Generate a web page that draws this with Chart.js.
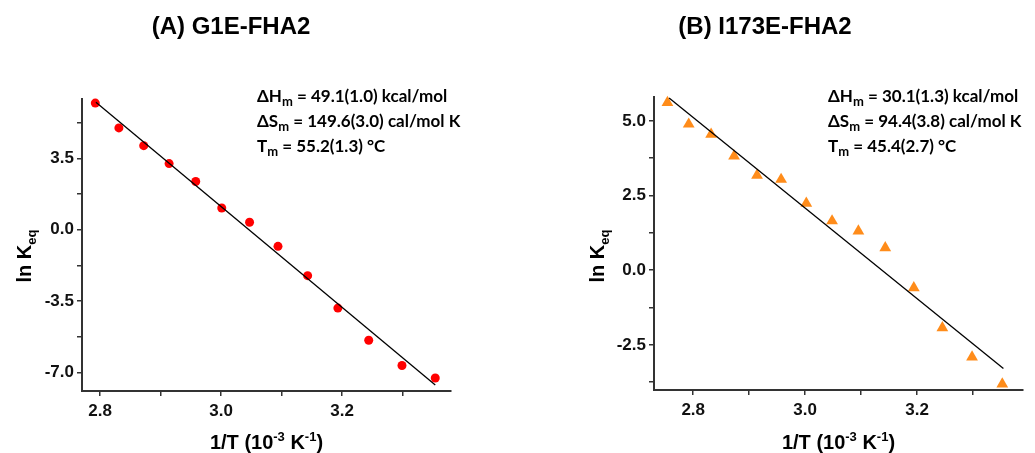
<!DOCTYPE html>
<html>
<head>
<meta charset="utf-8">
<script src="https://cdn.jsdelivr.net/npm/chart.js@4.4.1/dist/chart.umd.min.js"></script>
<style>
  html, body { margin: 0; padding: 0; background: #fff; }
  #wrap { position: relative; width: 1035px; height: 453px; }
  .panel { position: absolute; top: 0; height: 453px; }
  #panel-a { left: 0; width: 517px; }
  #panel-b { left: 517px; width: 518px; }
</style>
</head>
<body>
<div id="wrap">
  <div class="panel" id="panel-a"><canvas id="chart-a"></canvas></div>
  <div class="panel" id="panel-b"><canvas id="chart-b"></canvas></div>
</div>
<script>
// --- (A) G1E-FHA2
const g1eX = [2.792, 2.831, 2.872, 2.914, 2.958, 3.001, 3.047, 3.094, 3.143, 3.193, 3.244, 3.299, 3.354];
const g1eY = [6.21, 4.99, 4.12, 3.24, 2.36, 1.06, 0.36, -0.82, -2.26, -3.85, -5.43, -6.67, -7.28];
const g1eFitX = [2.793, 3.354];
const g1eFitY = [6.25, -7.62];
const g1eXTicks = [2.8, 2.9, 3.0, 3.1, 3.2, 3.3];
const g1eXLabels = [2.8, 3.0, 3.2];
const g1eYTicks = [-7, -5.25, -3.5, -1.75, 0, 1.75, 3.5, 5.25];
const g1eYLabels = [-7, -3.5, 0, 3.5];
const g1eNotes = [
    ["ΔH", "m", " = 49.1(1.0) kcal/mol"],
    ["ΔS", "m", " = 149.6(3.0) cal/mol K"],
    ["T", "m", " = 55.2(1.3) °C"],
];

// --- (B) I173E-FHA2
const i173eX = [2.754, 2.792, 2.832, 2.873, 2.914, 2.957, 3.002, 3.048, 3.095, 3.143, 3.194, 3.245, 3.298, 3.352];
const i173eY = [5.61, 4.89, 4.55, 3.82, 3.18, 3.04, 2.24, 1.65, 1.31, 0.75, -0.59, -1.93, -2.91, -3.81];
const i173eFitX = [2.757, 3.354];
const i173eFitY = [5.77, -3.29];
const i173eXTicks = [2.8, 2.9, 3.0, 3.1, 3.2, 3.3];
const i173eXLabels = [2.8, 3.0, 3.2];
const i173eYTicks = [-3.75, -2.5, -1.25, 0, 1.25, 2.5, 3.75, 5];
const i173eYLabels = [-2.5, 0, 2.5, 5];
const i173eNotes = [
    ["ΔH", "m", " = 30.1(1.3) kcal/mol"],
    ["ΔS", "m", " = 94.4(3.8) cal/mol K"],
    ["T", "m", " = 45.4(2.7) °C"],
];

const AXIS_FONT = '"Liberation Sans", Arial, sans-serif';
const NOTE_FONT = 'Lato, "Open Sans", sans-serif';

// draw text pieces, each {t, pos: 'sub'|'sup'|undefined}, centered or left at (x, y)
function drawRich(ctx, parts, x, y, size, family, align, ratio) {
    const small = Math.round(size * (ratio || 0.65));
    const widths = parts.map(p => {
        ctx.font = "bold " + (p.pos ? small : size) + "px " + family;
        return ctx.measureText(p.t).width;
    });
    const total = widths.reduce((a, b) => a + b, 0);
    let cx = align === "center" ? x - total / 2 : x;
    ctx.textAlign = "left";
    ctx.textBaseline = "alphabetic";
    parts.forEach((p, i) => {
        ctx.font = "bold " + (p.pos ? small : size) + "px " + family;
        let dy = 0;
        if (p.pos === "sub") dy = size * 0.25;
        if (p.pos === "sup") dy = -size * 0.4;
        ctx.fillText(p.t, cx, y + dy);
        cx += widths[i];
    });
}

const panelText = {
    id: "panelText",
    afterDraw(chart, args, opts) {
        const ctx = chart.ctx;
        const area = chart.chartArea;
        ctx.save();
        ctx.fillStyle = "#000";

        // panel title
        ctx.font = "bold 24px " + AXIS_FONT;
        ctx.textAlign = "center";
        ctx.textBaseline = "middle";
        ctx.fillText(opts.title, opts.titleX, 27);

        // fit results
        opts.notes.forEach((n, i) => {
            drawRich(ctx, [{ t: n[0] }, { t: n[1], pos: "sub" }, { t: n[2] }],
                     opts.noteX, 102 + i * 25, 17, NOTE_FONT, "left", 0.74);
        });

        // x axis title
        drawRich(ctx, [
            { t: "1/T (10" }, { t: "-3", pos: "sup" }, { t: " K" }, { t: "-1", pos: "sup" }, { t: ")" },
        ], (area.left + area.right) / 2, 449, 20, AXIS_FONT, "center");

        // y axis title
        ctx.translate(opts.yTitleX, 256);
        ctx.rotate(-Math.PI / 2);
        drawRich(ctx, [{ t: "ln K" }, { t: "eq", pos: "sub" }], 0, 0, 20, AXIS_FONT, "center");
        ctx.restore();
    },
};

function isLabel(list, v) {
    return list.some(l => Math.abs(l - v) < 1e-6);
}

function drawPanel(selector, cfg) {
    const axisStyle = {
        border: { display: true, color: "#333", width: 2 },
        grid: { drawOnChartArea: false, drawTicks: true, tickLength: 5, color: "#333", lineWidth: 1.5 },
    };
    new Chart(document.querySelector(selector), {
        type: "scatter",
        data: {
            datasets: [
                {
                    data: cfg.fitX.map((x, i) => ({ x: x, y: cfg.fitY[i] })),
                    showLine: true, pointRadius: 0,
                    borderColor: "#000", borderWidth: 1.3,
                    order: 0, clip: false,
                },
                {
                    data: cfg.x.map((x, i) => ({ x: x, y: cfg.y[i] })),
                    pointStyle: cfg.pointStyle, pointRadius: cfg.radius,
                    backgroundColor: cfg.color, borderColor: cfg.color, borderWidth: 0,
                    order: 1, clip: false,
                },
            ],
        },
        options: {
            responsive: true,
            maintainAspectRatio: false,
            animation: false,
            layout: { padding: cfg.padding },
            plugins: {
                legend: { display: false },
                tooltip: { enabled: false },
                panelText: cfg.text,
            },
            scales: {
                x: {
                    type: "linear", min: cfg.xMin, max: cfg.xMax,
                    ...axisStyle,
                    afterBuildTicks: axis => { axis.ticks = cfg.xTicks.map(v => ({ value: v })); },
                    afterFit: axis => { axis.height = cfg.xHeight; },
                    ticks: {
                        padding: 5, color: "#111", maxRotation: 0, autoSkip: false,
                        font: { family: AXIS_FONT, size: 17, weight: "bold" },
                        callback: v => isLabel(cfg.xLabels, v) ? v.toFixed(1) : "",
                    },
                },
                y: {
                    type: "linear", min: cfg.yMin, max: cfg.yMax,
                    ...axisStyle,
                    afterBuildTicks: axis => { axis.ticks = cfg.yTicks.map(v => ({ value: v })); },
                    afterFit: axis => { axis.width = cfg.yWidth; },
                    ticks: {
                        padding: 3, color: "#111", autoSkip: false,
                        font: { family: AXIS_FONT, size: 17, weight: "bold" },
                        callback: v => isLabel(cfg.yLabels, v) ? v.toFixed(1) : "",
                    },
                },
            },
        },
        plugins: [panelText],
    });
}

drawPanel("#chart-a", {
    x: g1eX, y: g1eY, fitX: g1eFitX, fitY: g1eFitY,
    xTicks: g1eXTicks, xLabels: g1eXLabels, yTicks: g1eYTicks, yLabels: g1eYLabels,
    xMin: 2.770, xMax: 3.380, yMin: -7.92, yMax: 6.41,
    pointStyle: "circle", radius: 4.5, color: "#ff0000",
    padding: { left: 0, top: 99, right: 66, bottom: 0 },
    yWidth: 82, xHeight: 62,
    text: { title: "(A) G1E-FHA2", titleX: 231, notes: g1eNotes, noteX: 257, yTitleX: 31 },
});

drawPanel("#chart-b", {
    x: i173eX, y: i173eY, fitX: i173eFitX, fitY: i173eFitY,
    xTicks: i173eXTicks, xLabels: i173eXLabels, yTicks: i173eYTicks, yLabels: i173eYLabels,
    xMin: 2.730, xMax: 3.389, yMin: -4.01, yMax: 5.80,
    pointStyle: "triangle", radius: 6.8, color: "#ff8c1a",
    padding: { left: 80, top: 97, right: 12, bottom: 0 },
    yWidth: 57, xHeight: 63,
    text: { title: "(B) I173E-FHA2", titleX: 248, notes: i173eNotes, noteX: 311, yTitleX: 87 },
});
</script>
</body>
</html>
